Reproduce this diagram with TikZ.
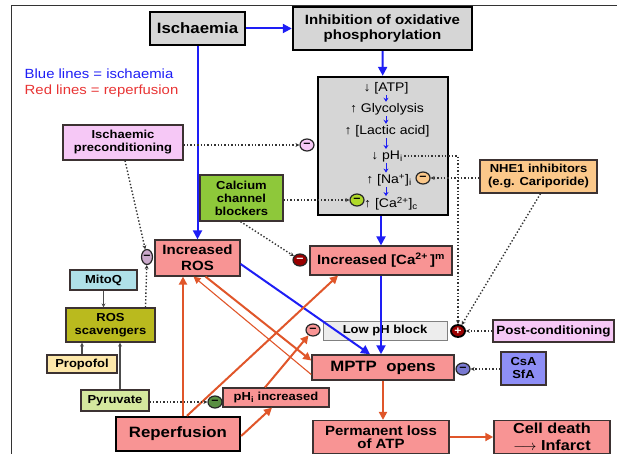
\documentclass[tikz,border=0pt]{standalone}
\usepackage{fontspec}
\setmainfont{Liberation Sans}[FakeStretch=1.12]
\usetikzlibrary{arrows.meta,shapes.geometric}

\definecolor{isblue}{RGB}{30,30,245}
\definecolor{rpred}{RGB}{224,86,42}
\definecolor{legred}{RGB}{232,52,52}
\definecolor{boxgray}{RGB}{214,214,214}
\definecolor{salmon}{RGB}{248,148,148}
\definecolor{lilac}{RGB}{246,200,246}
\definecolor{ccbgreen}{RGB}{142,200,58}
\definecolor{nheorange}{RGB}{251,200,138}
\definecolor{mitoblue}{RGB}{176,224,232}
\definecolor{olive}{RGB}{186,186,30}
\definecolor{propyellow}{RGB}{253,232,170}
\definecolor{pyrgreen}{RGB}{212,232,158}
\definecolor{csablue}{RGB}{142,142,246}
\definecolor{boxline}{RGB}{60,50,50}

\begin{document}
\begin{tikzpicture}[x=1pt,y=-1pt,>=Stealth,thick,
    lab/.style={draw=boxline,line width=1.2pt,inner sep=0pt,align=center,
      font=\bfseries\fontsize{11.6}{13}\selectfont},
    midlab/.style={lab,font=\bfseries\fontsize{13.4}{16}\selectfont},
    biglab/.style={lab,draw=black,line width=2.4pt,font=\bfseries\fontsize{15}{17}\selectfont},
    metab/.style={inner sep=1pt,font=\fontsize{12.5}{14}\selectfont},
    sign/.style={ellipse,draw=black!85,line width=1.2pt,inner sep=0pt,
      minimum width=14pt,minimum height=12pt,font=\bfseries\fontsize{11}{11}\selectfont},
    blue line/.style={isblue,line width=2pt,-{Triangle[length=9pt,width=9pt]}},
    red line/.style={rpred,line width=2pt,-{Triangle[length=8pt,width=8pt]}},
    thin red/.style={rpred,line width=1.1pt,-{Triangle[length=7pt,width=7pt]}},
    dot line/.style={black!80,dotted,line width=1.4pt,-{Stealth[length=4pt,width=4pt]}},
    thin line/.style={black!70,line width=1.2pt,-{Stealth[length=4pt,width=4pt]}},
    tiny arrow/.style={isblue,line width=1pt,-{Stealth[length=4pt,width=5pt]}}]

    \useasboundingbox (0,0) rectangle (617,454);
    \draw[black!80,line width=0.8pt] (11,454) -- (11,5) -- (617,5);

    % ischaemia side
    \node[biglab,fill=boxgray,minimum width=95pt,minimum height=33pt] (isch) at (197.5,28.5) {Ischaemia};
    \node[biglab,fill=boxgray,minimum width=179pt,minimum height=43pt,
      font=\bfseries\fontsize{13.4}{14.5}\selectfont] (inhib) at (382.5,28.5) {Inhibition of oxidative\\phosphorylation};
    \node[text=isblue,anchor=west,font=\fontsize{13.3}{15}\selectfont] (leg1) at (21,74) {Blue lines = ischaemia};
    \node[text=legred,anchor=west,font=\fontsize{13.3}{15}\selectfont] (leg2) at (21,91) {Red lines = reperfusion};

    \node[biglab,fill=boxgray,minimum width=130pt,minimum height=138pt] (cell) at (383,146) {};
    \node[metab] (atp) at (386,88) {↓ [ATP]};
    \node[metab] (gly) at (387,109) {↑ Glycolysis};
    \node[metab] (lac) at (387,131) {↑ [Lactic acid]};
    \node[metab] (ph) at (387,156) {↓ pH\textsubscript{i}};
    \node[metab] (na) at (389,180) {↑ [Na\textsuperscript{+}]\textsubscript{i}};
    \node[metab] (cac) at (391,204) {↑ [Ca\textsuperscript{2+}]\textsubscript{c}};
    \draw[tiny arrow] (atp.south) -- (atp.south |- gly.north);
    \draw[tiny arrow] (atp.south |- gly.south) -- (atp.south |- lac.north);
    \draw[tiny arrow] (atp.south |- lac.south) -- (atp.south |- ph.north);
    \draw[tiny arrow] (atp.south |- ph.south) -- (atp.south |- na.north);
    \draw[tiny arrow] (atp.south |- na.south) -- (atp.south |- cac.north);

    % interventions
    \node[lab,fill=lilac,minimum width=120pt,minimum height=35pt] (precond) at (123,142.5) {Ischaemic\\preconditioning};
    \node[lab,fill=ccbgreen,minimum width=83pt,minimum height=46pt] (ccb) at (241.5,198) {Calcium\\channel\\blockers};
    \node[lab,fill=nheorange,minimum width=117pt,minimum height=33pt] (nhe) at (538.5,176.5) {NHE1 inhibitors\\(e.g. Cariporide)};
    \node[lab,fill=mitoblue,minimum width=67pt,minimum height=20pt] (mitoq) at (103.5,280) {MitoQ};
    \node[lab,fill=olive,minimum width=89pt,minimum height=34pt] (scav) at (110.5,325) {ROS\\scavengers};
    \node[lab,fill=propyellow,minimum width=70pt,minimum height=18pt] (prop) at (82,364) {Propofol};
    \node[lab,fill=pyrgreen,minimum width=68pt,minimum height=21pt] (pyr) at (115,400.5) {Pyruvate};
    \node[lab,fill=lilac,minimum width=121pt,minimum height=22pt,font=\bfseries\fontsize{12}{13}\selectfont] (postc) at (553.5,331) {Post-conditioning};
    \node[lab,fill=csablue,minimum width=45pt,minimum height=33pt] (csa) at (523.5,368.5) {CsA\\SfA};

    % injury boxes
    \node[midlab,fill=salmon,minimum width=85pt,minimum height=36pt] (ros) at (197.5,258) {Increased\\ROS};
    \node[midlab,fill=salmon,minimum width=142pt,minimum height=29pt] (ca) at (381,260.5) {Increased [Ca\textsuperscript{2+}\,]\textsuperscript{m}};
    \node[lab,draw=black!50,line width=0.8pt,fill=black!7,minimum width=124pt,minimum height=19pt] (lowph) at (385,330.5) {Low pH block};
    \node[biglab,draw=boxline,line width=1.5pt,fill=salmon,minimum width=142pt,minimum height=25pt] (mptp) at (383,367.5) {MPTP\ \ opens};
    \node[lab,fill=salmon,minimum width=106pt,minimum height=19pt] (phinc) at (276,397.5) {pH\textsubscript{i} increased};
    \node[biglab,fill=salmon,minimum width=124pt,minimum height=34pt] (reperf) at (178,434) {Reperfusion};
    \node[midlab,fill=salmon,minimum width=136pt,minimum height=33pt,
      font=\bfseries\fontsize{13.4}{13.5}\selectfont] (perm) at (381,437) {Permanent loss\\of ATP};
    \node[biglab,draw=boxline,line width=1.5pt,fill=salmon,minimum width=116pt,minimum height=33pt,
      font=\bfseries\fontsize{14.5}{16.5}\selectfont] (death) at (552,437) {Cell death\\$\longrightarrow$ Infarct};

    % inhibition and activation marks
    \node[sign,fill=lilac] (m1) at (307,145) {−};
    \node[sign,fill=black!10!lilac!80!gray,minimum width=11pt,minimum height=15pt] (m2) at (147,257) {−};
    \node[sign,fill=ccbgreen!70!yellow] (m3) at (357,200) {−};
    \node[sign,fill=nheorange] (m4) at (423,178) {−};
    \node[sign,fill=red!55!black!90!red,text=white] (m5) at (300,260) {−};
    \node[sign,fill=salmon] (m6) at (313,330) {−};
    \node[sign,fill=red!60!black,draw=black,line width=1.8pt,text=white] (p1) at (458,331) {+};
    \node[sign,fill=csablue!85!black] (m7) at (463,369) {−};
    \node[sign,fill=pyrgreen!70!green!60!black] (m8) at (215,402) {−};

    % ischaemia (blue)
    \draw[blue line] (isch) -- (inhib);
    \draw[blue line] (inhib) -- (cell);
    \draw[blue line] (isch) -- (ros);
    \draw[blue line] (cell.south -| ca.north) -- (ca.north);
    \draw[blue line] (ca.south) -- (ca.south |- mptp.north);
    \draw[blue line] ([yshift=-6pt]ros.east) -- ([xshift=-13pt]mptp.north);

    % reperfusion (red)
    \draw[red line] ([xshift=5pt]reperf.north) -- ([xshift=-14.5pt]ros.south);
    \draw[red line] ([xshift=9pt]reperf.north) -- ([xshift=-43pt]ca.south);
    \draw[red line] ([yshift=-2pt]reperf.east) -- ([xshift=-4pt]phinc.south);
    \draw[red line] ([xshift=-11pt]phinc.north) -- (m6);
    \draw[red line] ([xshift=8pt]ros.south) -- ([yshift=7pt]mptp.west);
    \draw[thin red] ([yshift=-7pt]mptp.west) -- ([xshift=-4pt]ros.south);
    \draw[red line] (mptp.south) -- (mptp.south |- perm.north);
    \draw[red line] (perm) -- (death);

    % drug actions
    \draw[dot line] (precond.east |- m1) -- (m1);
    \draw[dot line] ([xshift=2pt]precond.south) -- (m2);
    \draw[dot line] ([xshift=35pt]scav.north) -- (m2);
    \draw[dot line] (ccb.east |- m3) -- (m3);
    \draw[dot line] ([xshift=-1pt]ccb.south) -- (m5);
    \draw[dot line] (nhe.west |- m4) -- (m4);
    \draw[dot line] ([xshift=2pt]nhe.south) -- (p1);
    \draw[dot line] (ph.east) -| (p1.north);
    \draw[dot line] (postc.west |- p1) -- (p1);
    \draw[dot line] (csa.west |- m7) -- (m7);
    \draw[dot line] (pyr.east |- m8) -- (m8);
    \draw[thin line] (mitoq) -- (mitoq |- scav.north);
    \draw[thin line] (prop) -- (prop |- scav.south);
    \draw[thin line] ([xshift=5pt]pyr.north) -- ([xshift=5pt]pyr.north |- scav.south);
\end{tikzpicture}
\end{document}
